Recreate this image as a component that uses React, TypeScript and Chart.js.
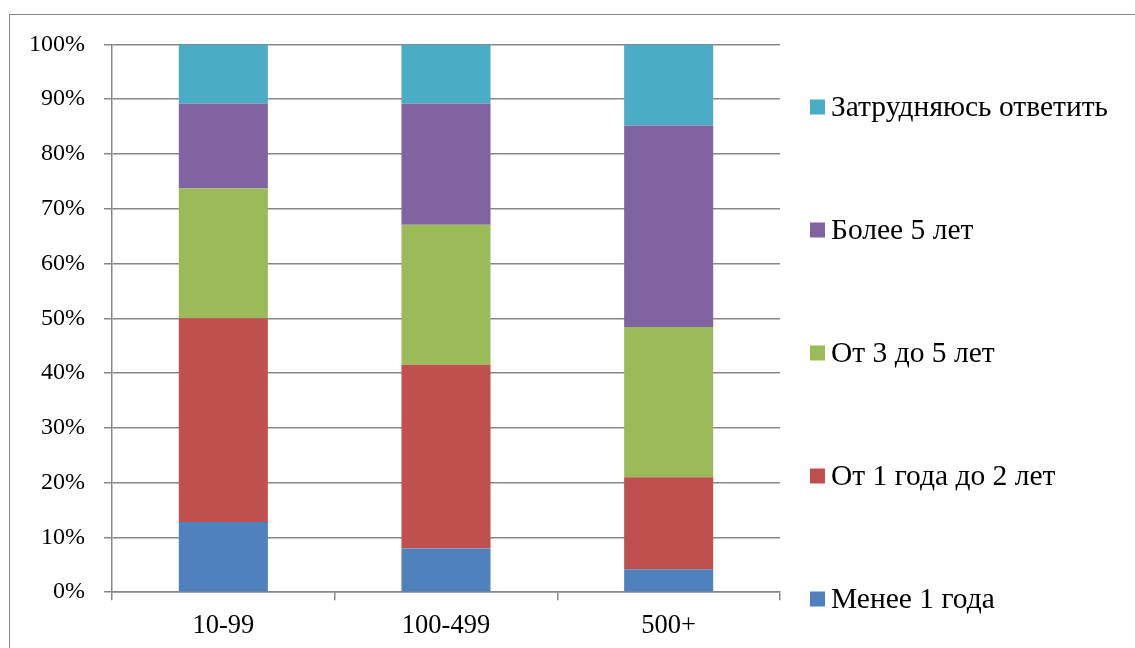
import React, { useEffect, useRef } from "react";
import { Chart, registerables } from "chart.js";

Chart.register(...registerables);

const categories = ["10-99", "100-499", "500+"];
const seriesNames = [
  "Менее 1 года",
  "От 1 года до 2 лет",
  "От 3 до 5 лет",
  "Более 5 лет",
  "Затрудняюсь ответить",
];
const lessThan1 = [12.8, 8.0, 4.2];
const from1to2 = [37.2, 33.5, 16.8];
const from3to5 = [23.7, 25.6, 27.4];
const moreThan5 = [15.5, 22.1, 36.8];
const hardToSay = [10.8, 10.8, 14.8];
const seriesValues = [lessThan1, from1to2, from3to5, moreThan5, hardToSay];
const seriesColors = ["#4F81BD", "#C0504D", "#9BBB59", "#8064A2", "#4BACC6"];
const yTicks = [0, 10, 20, 30, 40, 50, 60, 70, 80, 90, 100];

const FONT = "'Liberation Serif', 'Times New Roman', serif";
const Y_FONT = 24;
const X_FONT = 26.5;
const LEGEND_FONT = 29.5;

const legendPlugin = {
  id: "customLegend",
  afterDraw(chart: any) {
    const ctx = chart.ctx;
    const ds = chart.data.datasets;
    const startY = 96;
    const step = 123;
    const boxX = 800;
    const box = 15;
    const textX = 821;
    ctx.save();
    ctx.font = `${LEGEND_FONT}px ${FONT}`;
    ctx.textBaseline = "middle";
    ctx.textAlign = "left";
    for (let k = 0; k < ds.length; k++) {
      const d = ds[ds.length - 1 - k];
      const y = startY + k * step;
      ctx.fillStyle = d.backgroundColor;
      ctx.fillRect(boxX, y - box / 2, box, box);
      ctx.fillStyle = "#000";
      ctx.fillText(d.label, textX, y + 1);
    }
    ctx.restore();
  },
};

export default function App() {
  const ref = useRef<HTMLCanvasElement | null>(null);
  useEffect(() => {
    document.body.style.overflow = "hidden";
    if (!ref.current) return;
    const chart = new Chart(ref.current, {
      type: "bar",
      data: {
        labels: categories,
        datasets: seriesNames.map((name, i) => ({
          label: name,
          data: seriesValues[i],
          backgroundColor: seriesColors[i],
          borderWidth: 0,
          barPercentage: 0.4,
          categoryPercentage: 1,
        })),
      },
      options: {
        responsive: false,
        animation: false,
        layout: { padding: { left: 0, right: 355, top: 25, bottom: 8 } },
        plugins: {
          legend: { display: false },
          tooltip: { enabled: false },
        },
        scales: {
          x: {
            stacked: true,
            grid: {
              offset: true,
              drawOnChartArea: false,
              drawTicks: true,
              tickLength: 8,
              color: "#878787",
              lineWidth: 1.5,
            },
            border: { color: "#878787", width: 1.5 },
            ticks: {
              color: "#000",
              padding: 10,
              font: { family: FONT, size: X_FONT },
            },
          },
          y: {
            stacked: true,
            min: 0,
            max: 100,
            afterBuildTicks: (axis: any) => {
              axis.ticks = yTicks.map((v) => ({ value: v }));
            },
            grid: {
              color: "#878787",
              lineWidth: 1.5,
              tickLength: 8,
            },
            border: { color: "#878787", width: 1.5 },
            ticks: {
              color: "#000",
              padding: 19,
              font: { family: FONT, size: Y_FONT },
              callback: (v: any) => v + "%",
            },
          },
        },
      },
      plugins: [legendPlugin],
    });
    return () => chart.destroy();
  }, []);

  return (
    <div
      style={{
        position: "absolute",
        left: 9,
        top: 14,
        width: 1140,
        height: 660,
        borderLeft: "1px solid #878787",
        borderTop: "1px solid #878787",
        background: "#fff",
      }}
    >
      <canvas
        ref={ref}
        width={1125}
        height={649}
        style={{ position: "absolute", left: 0, top: -4, width: 1125, height: 649 }}
      />
    </div>
  );
}
